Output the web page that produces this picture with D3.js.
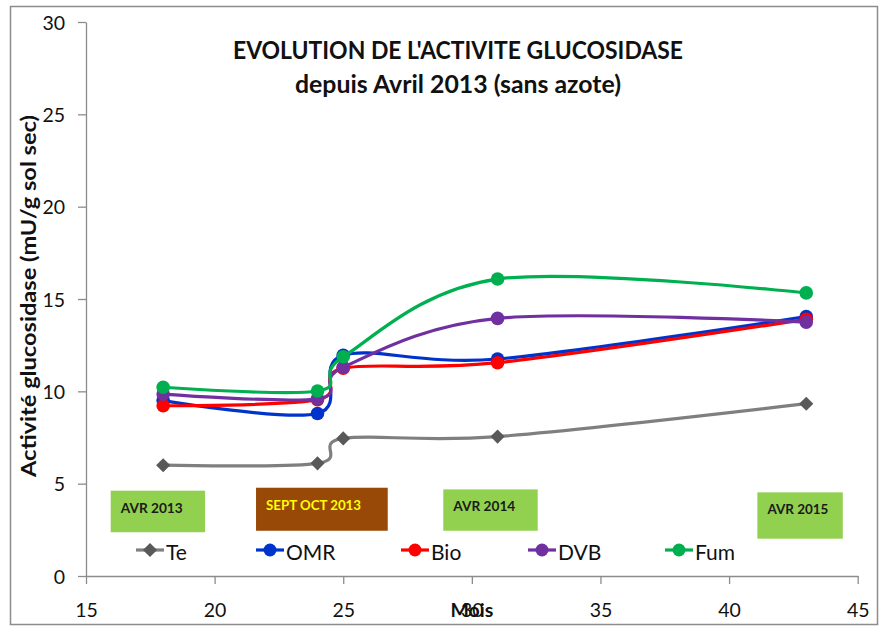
<!DOCTYPE html>
<html><head><meta charset="utf-8">
<script src="https://cdn.jsdelivr.net/npm/d3@7"></script>
<style>
html,body{margin:0;padding:0;background:#fff;}
svg{display:block;font-family:Lato,"Open Sans",sans-serif;}
</style></head>
<body>
<svg id="c" width="885" height="627"></svg>
<script>
// ---- data ----
const months = [18, 24, 25, 31, 43];
const seriesNames = ["Te", "OMR", "Bio", "DVB", "Fum"];
const te  = [6.0, 6.1, 7.45, 7.55, 9.33];
const omr = [9.5, 8.8, 11.95, 11.75, 14.05];
const bio = [9.22, 9.55, 11.25, 11.55, 13.9];
const dvb = [9.85, 9.6, 11.3, 13.95, 13.75];
const fum = [10.22, 10.02, 11.87, 16.08, 15.33];
const seriesColors = ["#7f7f7f", "#0033cc", "#ff0000", "#7030a0", "#00b050"];
const markerColors = ["#595959", "#0033cc", "#ff0000", "#7030a0", "#00b050"];
const xTicks = [15, 20, 25, 30, 35, 40, 45];
const yTicks = [0, 5, 10, 15, 20, 25, 30];
const periodLabels = ["AVR 2013", "SEPT OCT 2013", "AVR 2014", "AVR 2015"];
const periodX0 = [15.96, 21.61, 28.89, 41.10];
const periodX1 = [19.63, 26.73, 32.56, 44.42];
const periodY0 = [2.37, 2.45, 2.45, 2.02];
const periodY1 = [4.62, 4.78, 4.69, 4.53];
const titleLines = ["EVOLUTION DE L'ACTIVITE GLUCOSIDASE", "depuis Avril 2013 (sans azote)"];
const yTitle = "Activité glucosidase (mU/g sol sec)";
const xTitle = "Mois";

const allSeries = [te, omr, bio, dvb, fum];

const svg = d3.select("#c");
const L = 86, R = 857.7, T = 22, B = 576;

svg.append("rect").attr("x", 10.5).attr("y", 6.5).attr("width", 867).attr("height", 618)
  .attr("fill", "#fff").attr("stroke", "#8c8c8c").attr("stroke-width", 1.5);

const x = d3.scaleLinear().domain([15, 45]).range([L, R]);
const y = d3.scaleLinear().domain([0, 30]).range([B, T]);

// axes
const xAxis = d3.axisBottom(x).tickValues(xTicks).tickSize(8).tickPadding(14).tickSizeOuter(0);
const yAxis = d3.axisLeft(y).tickValues(yTicks).tickSize(8).tickPadding(14).tickSizeOuter(0);
const gx = svg.append("g").attr("transform", `translate(0,${B})`).call(xAxis);
const gy = svg.append("g").attr("transform", `translate(${L},0)`).call(yAxis);
[gx, gy].forEach(g => {
  g.select(".domain").attr("stroke", "#8c8c8c").attr("stroke-width", 1.3);
  g.selectAll(".tick line").attr("stroke", "#8c8c8c").attr("stroke-width", 1.3);
  g.selectAll(".tick text").attr("fill", "#111").attr("font-size", 19.5)
    .attr("font-family", "Lato, sans-serif");
});
gx.selectAll(".tick text").attr("dy", 0).attr("y", 41);
gy.selectAll(".tick text").attr("dy", "0.36em").attr("x", -21);

// annotation boxes
const boxFill = ["#92d050", "#984807", "#92d050", "#92d050"];
const boxText = ["#1a1a1a", "#ffff00", "#1a1a1a", "#1a1a1a"];
periodLabels.forEach((lab, i) => {
  const x0 = x(periodX0[i]), x1 = x(periodX1[i]);
  const y0 = y(periodY1[i]), y1 = y(periodY0[i]);
  svg.append("rect").attr("x", x0).attr("y", y0).attr("width", x1 - x0).attr("height", y1 - y0)
    .attr("fill", boxFill[i]);
  svg.append("text").attr("x", x0 + 10).attr("y", y0 + 22)
    .attr("font-size", 14).attr("font-weight", "bold").attr("fill", boxText[i])
    .attr("textLength", [62, 95, 62, 61][i]).attr("lengthAdjust", "spacingAndGlyphs")
    .text(lab);
});

// lines
const line = d3.line().x((d, i) => x(months[i])).y(d => y(d)).curve(d3.curveCardinal.tension(0));
const diamond = d3.symbol().type(d3.symbolSquare).size(100);

allSeries.forEach((vals, s) => {
  svg.append("path").attr("d", line(vals)).attr("fill", "none")
    .attr("stroke", seriesColors[s]).attr("stroke-width", 3.2).attr("stroke-linejoin", "round");
  vals.forEach((v, i) => {
    if (s === 0) {
      svg.append("path").attr("d", diamond)
        .attr("transform", `translate(${x(months[i])},${y(v)}) rotate(45)`)
        .attr("fill", markerColors[s]);
    } else {
      svg.append("circle").attr("cx", x(months[i])).attr("cy", y(v)).attr("r", 6.8)
        .attr("fill", markerColors[s]);
    }
  });
});

// legend
const legX = [136, 256, 401, 528, 665];
const legY = 550;
seriesNames.forEach((n, s) => {
  const g = svg.append("g").attr("transform", `translate(${legX[s]},${legY})`);
  g.append("line").attr("x1", 0).attr("x2", 28).attr("y1", 0).attr("y2", 0)
    .attr("stroke", seriesColors[s]).attr("stroke-width", 3.2);
  if (s === 0) g.append("path").attr("d", diamond).attr("transform", "translate(14,0) rotate(45)").attr("fill", markerColors[s]);
  else g.append("circle").attr("cx", 14).attr("cy", 0).attr("r", 6.5).attr("fill", markerColors[s]);
  g.append("text").attr("x", 30).attr("y", 9.5).attr("font-size", 21).attr("fill", "#111").text(n);
});

// titles
svg.append("text").attr("x", 458).attr("y", 59).attr("text-anchor", "middle")
  .attr("font-size", 24).attr("font-weight", "bold").attr("fill", "#111")
  .attr("textLength", 450).attr("lengthAdjust", "spacingAndGlyphs").text(titleLines[0]);
svg.append("text").attr("x", 458).attr("y", 93).attr("text-anchor", "middle")
  .attr("font-size", 24).attr("font-weight", "bold").attr("fill", "#111")
  .attr("textLength", 326).attr("lengthAdjust", "spacingAndGlyphs").text(titleLines[1]);

svg.append("text").attr("transform", "translate(36,296) rotate(-90)").attr("text-anchor", "middle")
  .attr("font-size", 20).attr("font-weight", "bold").attr("fill", "#111")
  .attr("textLength", 362).attr("lengthAdjust", "spacingAndGlyphs").text(yTitle);

svg.append("text").attr("x", x(30)).attr("y", B + 41).attr("text-anchor", "middle")
  .attr("font-size", 19.5).attr("font-weight", "bold").attr("fill", "#111").text(xTitle);
</script>
</body></html>
